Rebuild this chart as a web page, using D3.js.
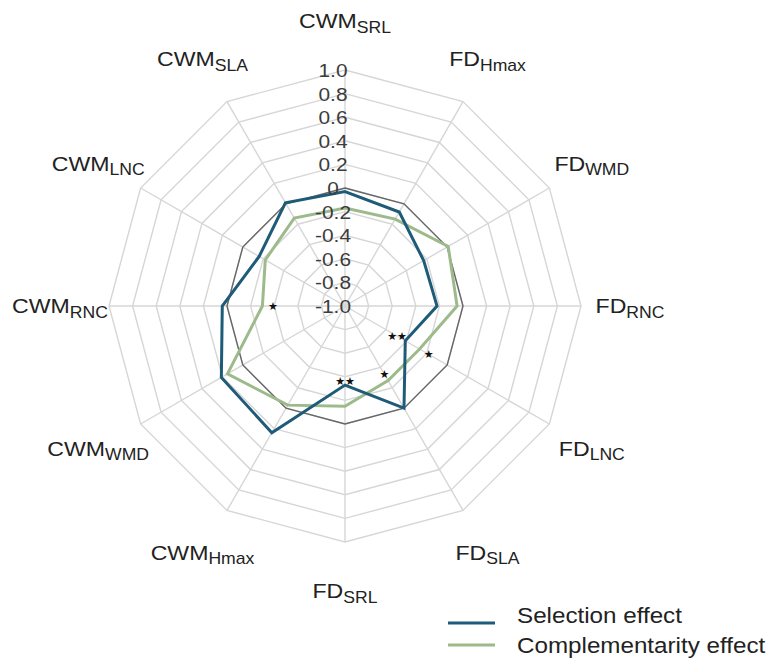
<!DOCTYPE html>
<html>
<head>
<meta charset="utf-8">
<script src="https://cdn.jsdelivr.net/npm/d3@7/dist/d3.min.js"></script>
<style>
  html, body { margin: 0; padding: 0; background: #fff; }
  svg { display: block; font-family: "Liberation Sans", Arial, sans-serif; }
</style>
</head>
<body>
<svg id="chart" width="766" height="659"></svg>
<script>
// Trait axes, clockwise from the top
const axisMain = ["CWM", "FD", "FD", "FD", "FD", "FD", "FD", "CWM", "CWM", "CWM", "CWM", "CWM"];
const axisSub  = ["SRL", "Hmax", "WMD", "RNC", "LNC", "SLA", "SRL", "Hmax", "WMD", "RNC", "LNC", "SLA"];

// Effect sizes per axis
const selectionEffect       = [-0.03, -0.08, -0.23, -0.22, -0.41, 0.00, -0.33, 0.24, 0.21, 0.04, -0.16, 0.01];
const complementarityEffect = [-0.17, -0.15, 0.01, -0.05, -0.27, -0.27, -0.15, -0.03, 0.15, -0.30, -0.22, -0.14];

// Radial tick labels
const tickValues = [-1.0, -0.8, -0.6, -0.4, -0.2, 0, 0.2, 0.4, 0.6, 0.8, 1.0];
const tickLabels = ["-1.0", "-0.8", "-0.6", "-0.4", "-0.2", "0", "0.2", "0.4", "0.6", "0.8", "1.0"];

// Significance markers: axis index, radial value, text
const markAxis  = [9, 4, 4, 5, 6];
const markValue = [-0.39, -0.49, -0.18, -0.33, -0.36];
const markText  = ["★", "★★", "★", "★", "★★"];

const seriesNames  = ["Selection effect", "Complementarity effect"];
const seriesColors = ["#1e5b78", "#9dba8b"];

const svg = d3.select("#chart");
const cx = 345, cy = 306, R = 236;
const n = axisMain.length;
const step = 2 * Math.PI / n;
const stretch = 1.1; // slightly wide lettering

const r = d3.scaleLinear().domain([-1, 1]).range([0, R]);
const pt = (i, rad) => [cx + rad * Math.sin(i * step), cy - rad * Math.cos(i * step)];

const g = svg.append("g").attr("transform", `translate(${cx},${cy})`);

const ring = d3.lineRadial()
  .angle((d, i) => i * step)
  .radius(d => r(d))
  .curve(d3.curveLinearClosed);

// Grid rings
const gridVals = tickValues.filter(v => v > -1);
g.selectAll(".ring").data(gridVals).join("path")
  .attr("class", "ring")
  .attr("d", v => ring(d3.range(n).map(() => v)))
  .attr("fill", "none")
  .attr("stroke", "#d6d6d6")
  .attr("stroke-width", 1.4);

// Spokes
g.selectAll(".spoke").data(d3.range(n)).join("line")
  .attr("class", "spoke")
  .attr("x1", 0).attr("y1", 0)
  .attr("x2", i => r(1) * Math.sin(i * step))
  .attr("y2", i => -r(1) * Math.cos(i * step))
  .attr("stroke", "#d6d6d6")
  .attr("stroke-width", 1.4);

// Zero reference ring
g.append("path")
  .attr("d", ring(d3.range(n).map(() => 0)))
  .attr("fill", "none")
  .attr("stroke", "#666")
  .attr("stroke-width", 1.4);

// Radial tick labels along the top spoke
svg.selectAll(".tick").data(tickValues).join("text")
  .attr("class", "tick")
  .attr("transform", v => `translate(${cx - 12},${cy - r(v) + 7}) scale(${stretch},1)`)
  .attr("text-anchor", "middle")
  .attr("font-size", 19)
  .attr("fill", "#3c3c3c")
  .text((v, i) => tickLabels[i]);

// Series polygons
const seriesData = [selectionEffect, complementarityEffect];
g.selectAll(".series").data([1, 0]).join("path")
  .attr("class", "series")
  .attr("d", k => ring(seriesData[k]))
  .attr("fill", "none")
  .attr("stroke", k => seriesColors[k])
  .attr("stroke-width", 3)
  .attr("stroke-linejoin", "miter");

// Significance markers
svg.selectAll(".mark").data(markAxis).join("text")
  .attr("class", "mark")
  .attr("x", (a, i) => pt(a, r(markValue[i]))[0])
  .attr("y", (a, i) => pt(a, r(markValue[i]))[1])
  .attr("text-anchor", "middle")
  .attr("dominant-baseline", "central")
  .attr("font-family", "DejaVu Sans")
  .attr("font-size", 11)
  .attr("fill", "#111")
  .text((a, i) => markText[i]);

// Axis labels with subscripts
const labelR = 285;
const lab = svg.selectAll(".axislabel").data(d3.range(n)).join("text")
  .attr("class", "axislabel")
  .attr("transform", i => `translate(${pt(i, labelR)[0]},${pt(i, labelR)[1] + 7}) scale(${stretch},1)`)
  .attr("text-anchor", "middle")
  .attr("fill", "#222");
lab.append("tspan").attr("font-size", 21).text(i => axisMain[i]);
lab.append("tspan").attr("font-size", 16).attr("dy", 4.5).text(i => axisSub[i]);

// Legend
const legendY = [623, 645];
const legendTextY = [623, 653];
const leg = svg.selectAll(".legend").data(seriesNames).join("g").attr("class", "legend");
leg.append("line")
  .attr("x1", 448).attr("x2", 495)
  .attr("y1", (d, i) => legendY[i]).attr("y2", (d, i) => legendY[i])
  .attr("stroke", (d, i) => seriesColors[i])
  .attr("stroke-width", 3);
leg.append("text")
  .attr("transform", (d, i) => `translate(517,${legendTextY[i]}) scale(${stretch},1)`)
  .attr("font-size", 22)
  .attr("fill", "#222")
  .text(d => d);
</script>
</body>
</html>
